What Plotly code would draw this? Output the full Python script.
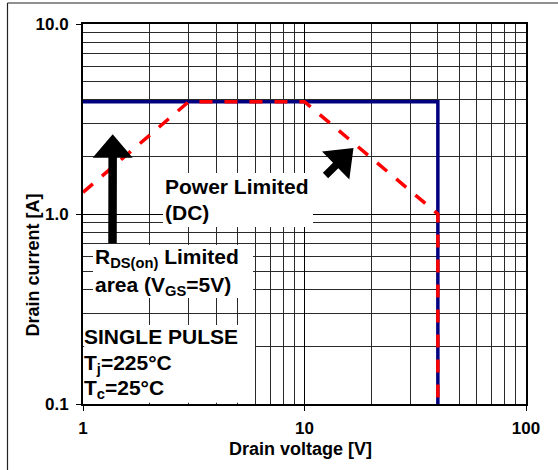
import math
import plotly.graph_objects as go

# ---- data ----
blue_v = [1, 40, 40]
blue_i = [3.9, 3.9, 0.1]
red_v = [1, 3, 10, 40, 40]
red_i = [1.3, 3.9, 3.9, 1.0, 0.1]

x_major = [1, 10, 100]
x_major_text = ["1", "10", "100"]
x_minor = [2, 3, 4, 5, 6, 7, 8, 9, 20, 30, 40, 50, 60, 70, 80, 90]
y_major = [0.1, 1, 10]
y_major_text = ["0.1", "1.0", "10.0"]
y_minor = [0.2, 0.3, 0.4, 0.5, 0.6, 0.7, 0.8, 0.9, 2, 3, 4, 5, 6, 7, 8, 9]

# ---- layout geometry (pixels) ----
W_FIG, H_FIG = 558, 470
ML, MR, MT, MB = 83, 32, 24, 66
PW = W_FIG - ML - MR
PH = H_FIG - MT - MB
FONT = "Liberation Sans, Arial, sans-serif"


def pu(x):
    return (x - ML) / PW


def pv(y):
    return (H_FIG - MB - y) / PH


def arrow_path(tail, tip, shaft_w, head_w, head_len):
    tx, ty = tail
    hx, hy = tip
    dx, dy = hx - tx, hy - ty
    L = math.hypot(dx, dy)
    ux, uy = dx / L, dy / L
    nx, ny = -uy, ux
    bx, by = hx - ux * head_len, hy - uy * head_len
    pts = [
        (tx + nx * shaft_w / 2, ty + ny * shaft_w / 2),
        (bx + nx * shaft_w / 2, by + ny * shaft_w / 2),
        (bx + nx * head_w / 2, by + ny * head_w / 2),
        (hx, hy),
        (bx - nx * head_w / 2, by - ny * head_w / 2),
        (bx - nx * shaft_w / 2, by - ny * shaft_w / 2),
        (tx - nx * shaft_w / 2, ty - ny * shaft_w / 2),
    ]
    s = "M " + " L ".join(f"{pu(px):.5f},{pv(py):.5f}" for px, py in pts) + " Z"
    return s


fig = go.Figure()
fig.add_trace(go.Scatter(x=blue_v, y=blue_i, mode="lines",
                         line=dict(color="#000080", width=3.5), hoverinfo="skip"))
fig.add_trace(go.Scatter(x=red_v, y=red_i, mode="lines",
                         line=dict(color="#ff0000", width=3.5, dash="13px,12px"),
                         hoverinfo="skip"))

shapes = []
# white label boxes (they do not overlap any data line)
for x0, y0, x1, y1 in [(163, 173, 313, 227), (93, 245, 253, 298), (84.2, 325, 255, 402.8)]:
    shapes.append(dict(type="rect", xref="paper", yref="paper",
                       x0=pu(x0), x1=pu(x1), y0=pv(y1), y1=pv(y0),
                       fillcolor="white", line=dict(width=0), layer="above"))
# arrows
shapes.append(dict(type="path", xref="paper", yref="paper",
                   path=arrow_path((112.5, 243.3), (112.7, 134.3), 8.5, 40, 23.5),
                   fillcolor="black", line=dict(width=0), layer="above"))
shapes.append(dict(type="path", xref="paper", yref="paper",
                   path=arrow_path((325.5, 175.5), (353.5, 148.0), 7.5, 39, 25),
                   fillcolor="black", line=dict(width=0), layer="above"))
# outer frame (left & top)
shapes.append(dict(type="line", xref="paper", yref="paper",
                   x0=pu(7.5), x1=pu(7.5), y0=pv(3), y1=pv(475),
                   line=dict(color="#222", width=1.2)))
shapes.append(dict(type="line", xref="paper", yref="paper",
                   x0=pu(7.5), x1=pu(565), y0=pv(3), y1=pv(3),
                   line=dict(color="#222", width=1.2)))

annots = []


def txt(s, x, yc, size=21):
    annots.append(dict(text=s, xref="paper", yref="paper", x=pu(x), y=pv(yc),
                       xanchor="left", yanchor="middle", showarrow=False,
                       borderpad=0,
                       font=dict(family=FONT, size=size, color="black")))


txt("<b>Power Limited</b>", 164, 186.5)
txt("<b>(DC)</b>", 164, 212.5)
txt("<b>R<sub>DS(on)</sub> Limited</b>", 94, 258)
txt("<b>area (V<sub>GS</sub>=5V)</b>", 94, 286)
txt("<b>SINGLE PULSE</b>", 82.5, 336.5)
txt("<b>T<sub>j</sub>=225°C</b>", 82.5, 363.5)
txt("<b>T<sub>c</sub>=25°C</b>", 82.5, 388.5)

# axis titles
annots.append(dict(text="<b>Drain voltage [V]</b>", xref="paper", yref="paper",
                   x=pu(300.5), y=pv(449), xanchor="center", yanchor="middle",
                   showarrow=False, font=dict(family=FONT, size=18, color="black")))
annots.append(dict(text="<b>Drain current [A]</b>", xref="paper", yref="paper",
                   x=pu(32.5), y=pv(265), xanchor="center", yanchor="middle",
                   textangle=-90, showarrow=False,
                   font=dict(family=FONT, size=18, color="black")))

axis_common = dict(
    type="log", showline=True, linecolor="black", linewidth=2, mirror=True,
    ticks="outside", ticklen=5, tickcolor="black", tickwidth=1,
    showgrid=True, gridcolor="black", gridwidth=1.3,
    tickfont=dict(family=FONT, size=17, color="black"),
    zeroline=False, fixedrange=True,
)

fig.update_layout(
    width=W_FIG, height=H_FIG,
    margin=dict(l=ML, r=MR, t=MT, b=MB),
    paper_bgcolor="white", plot_bgcolor="white",
    showlegend=False,
    shapes=shapes, annotations=annots,
    xaxis=dict(axis_common, range=[0, 2], tickmode="array",
               tickvals=x_major, ticktext=[f"<b>{t}</b>" for t in x_major_text],
               ticklabelstandoff=3,
               minor=dict(tickmode="array", tickvals=x_minor, ticks="",
                          showgrid=True, gridcolor="#2a2a2a", gridwidth=1)),
    yaxis=dict(axis_common, range=[-1, 1], tickmode="array",
               tickvals=y_major, ticktext=[f"<b>{t}</b>" for t in y_major_text],
               ticklabelstandoff=4,
               minor=dict(tickmode="array", tickvals=y_minor, ticks="",
                          showgrid=True, gridcolor="#2a2a2a", gridwidth=1)),
)

fig.write_html("out.html")
